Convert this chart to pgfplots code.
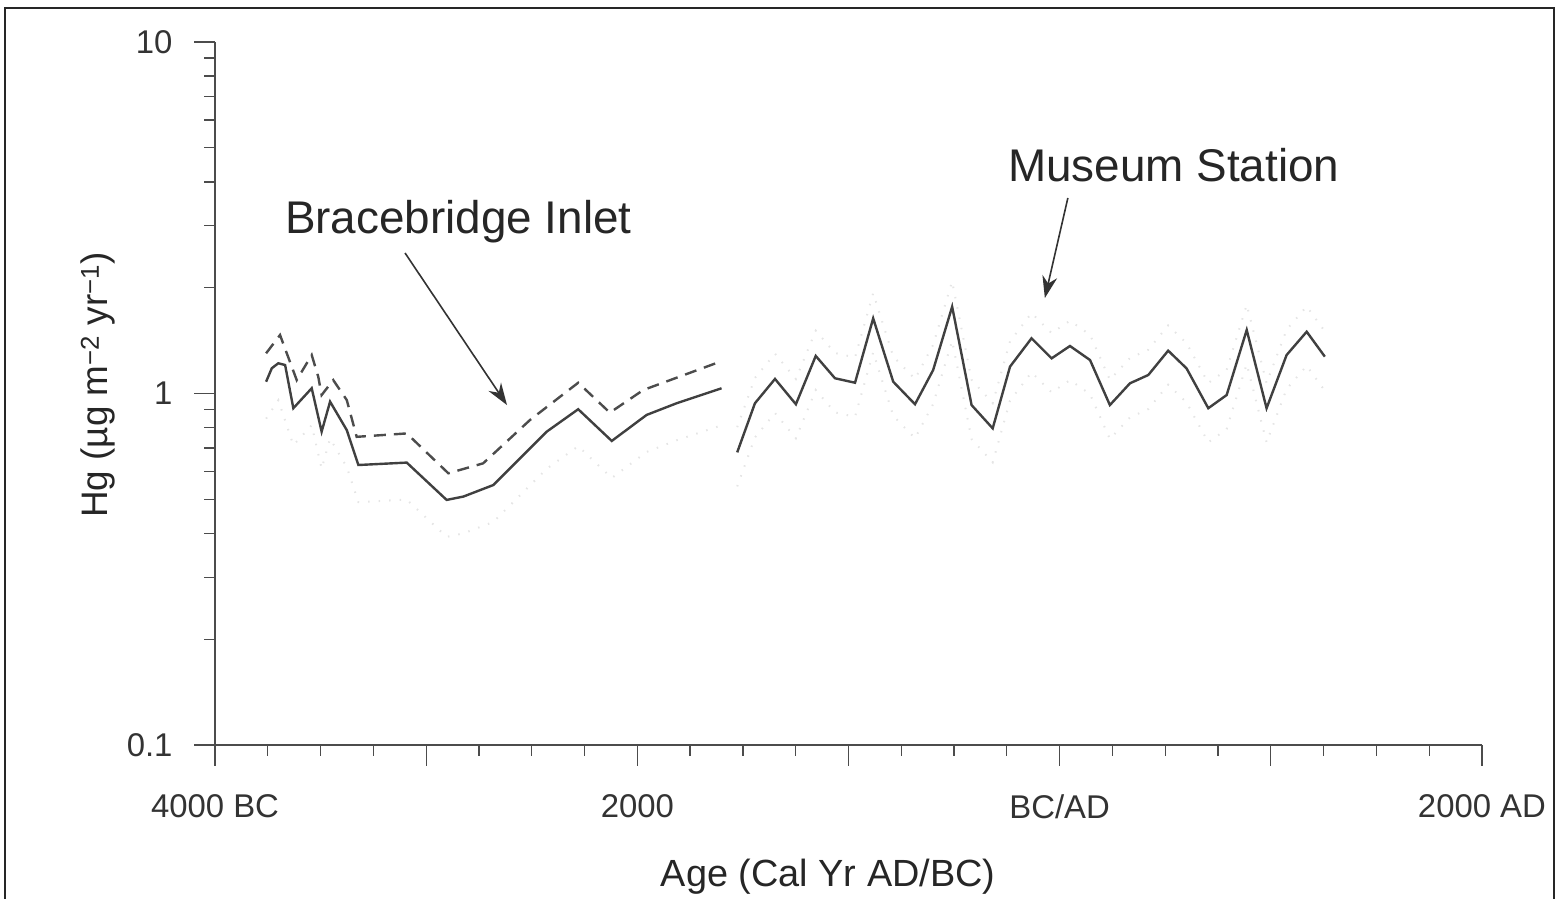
\documentclass[border=0pt]{standalone}
\usepackage{fontspec}
\setmainfont{Liberation Sans}
\usepackage{pgfplots}
\pgfplotsset{compat=1.18}
\usetikzlibrary{arrows.meta}
\begin{document}
\begin{tikzpicture}[x=1bp,y=1bp]
\useasboundingbox (0,0) rectangle (1562,898);
\draw[line width=2bp, black!85] (5,-10) -- (5,890) -- (1554,890) -- (1554,-10);
\begin{axis}[
  at={(215bp,153bp)}, anchor=south west,
  scale only axis, width=1267bp, height=703bp,
  xmin=-4000, xmax=2000,
  ymode=log, ymin=0.1, ymax=10,
  axis lines*=left,
  clip=false,
  xtick={-4000,-3000,...,2000},
  xticklabels={4000 BC,,2000,,BC/AD,,2000 AD},
  minor x tick num=3,
  ytick={0.1,1,10},
  yticklabels={0.1,1,10},
  minor ytick={0.2,0.3,0.4,0.5,0.6,0.7,0.8,0.9,2,3,4,5,6,7,8,9},
  tick align=outside,
  major tick length=21bp, minor tick length=11bp,
  every tick/.style={black!70, line width=1.3bp},
  axis line style={black!70, line width=2.2bp},
  /pgf/number format/assume math mode=true,
  xticklabel style={font=\fontsize{33}{36}\selectfont, text=black!80, yshift=-25bp},
  yticklabel style={font=\fontsize{33}{36}\selectfont, text=black!80, xshift=-18bp},
  xlabel={Age (Cal Yr AD/BC)},
  xlabel style={at={(axis description cs:0.484,0)}, anchor=center, yshift=-132bp, font=\fontsize{38}{40}\selectfont, text=black!85},
  ylabel={Hg (µg m\textsuperscript{−2} yr\textsuperscript{−1})},
  ylabel style={at={(axis description cs:-0.0923,0.512)}, anchor=center, font=\fontsize{37}{40}\selectfont, text=black!85},
]
% faint confidence bands
\addplot[gray!20, line width=2bp, dash pattern=on 1.5bp off 9bp] coordinates {
(-3758,0.848) (-3700,0.957) (-3629,0.713) (-3542,0.812) (-3495,0.611) (-3455,0.744)
(-3376,0.618) (-3321,0.491) (-3092,0.499) (-2903,0.391) (-2824,0.400) (-2682,0.431)
(-2429,0.611) (-2280,0.708) (-2121,0.575) (-1956,0.682) (-1814,0.736) (-1601,0.812)};
\addplot[gray!20, line width=2bp, dash pattern=on 1.5bp off 9bp] coordinates {
(-1527,0.802) (-1443,1.107) (-1348,1.298) (-1249,1.100) (-1155,1.509) (-1064,1.304)
(-969,1.266) (-883,1.930) (-788,1.274) (-685,1.100) (-599,1.376) (-509,2.084)
(-417,1.094) (-317,0.939) (-235,1.407) (-133,1.694) (-38,1.486) (49,1.611)
(144,1.469) (238,1.094) (333,1.261) (420,1.332) (514,1.562) (601,1.391)
(704,1.071) (791,1.168) (886,1.789) (980,1.071) (1075,1.519) (1170,1.769) (1256,1.502)};
\addplot[gray!20, line width=2bp, dash pattern=on 1.5bp off 9bp] coordinates {
(-1527,0.544) (-1443,0.750) (-1348,0.880) (-1249,0.746) (-1155,1.023) (-1064,0.884)
(-969,0.858) (-883,1.309) (-788,0.864) (-685,0.746) (-599,0.933) (-509,1.413)
(-417,0.742) (-317,0.637) (-235,0.954) (-133,1.149) (-38,1.007) (49,1.092)
(144,0.996) (238,0.742) (333,0.855) (420,0.903) (514,1.059) (601,0.943)
(704,0.726) (791,0.792) (886,1.213) (980,0.726) (1075,1.030) (1170,1.199) (1256,1.018)};
% Bracebridge Inlet, dashed
\addplot[black!70, line width=2.4bp, dash pattern=on 12bp off 8bp] coordinates {
(-3758,1.301) (-3692,1.467) (-3660,1.301) (-3613,1.092) (-3542,1.287) (-3511,1.116)
(-3495,0.990) (-3440,1.092) (-3376,0.958) (-3329,0.753) (-3092,0.770) (-2895,0.593)
(-2730,0.633) (-2508,0.841) (-2280,1.073) (-2130,0.882) (-1972,1.023) (-1609,1.231)};
% Bracebridge Inlet, solid
\addplot[black!75, line width=2.4bp] coordinates {
(-3758,1.080) (-3731,1.180) (-3700,1.219) (-3668,1.205) (-3629,0.908) (-3542,1.035)
(-3495,0.779) (-3455,0.948) (-3376,0.787) (-3321,0.626) (-3092,0.636) (-2903,0.498)
(-2824,0.509) (-2682,0.549) (-2429,0.779) (-2280,0.902) (-2121,0.733) (-1956,0.869)
(-1814,0.938) (-1601,1.035)};
% Museum Station
\addplot[black!75, line width=2.4bp] coordinates {
(-1527,0.680) (-1443,0.938) (-1348,1.100) (-1249,0.932) (-1155,1.279) (-1064,1.105)
(-969,1.073) (-883,1.636) (-788,1.080) (-685,0.932) (-599,1.166) (-509,1.766)
(-417,0.927) (-317,0.796) (-235,1.192) (-133,1.436) (-38,1.259) (49,1.365)
(144,1.245) (238,0.927) (333,1.069) (420,1.129) (514,1.324) (601,1.179)
(704,0.908) (791,0.990) (886,1.516) (980,0.908) (1075,1.287) (1170,1.499) (1256,1.273)};
% annotations
\node[anchor=west, inner sep=0, font=\fontsize{46}{48}\selectfont, text=black!85] at (axis cs:-3669,3.075) {Bracebridge Inlet};
\node[anchor=west, inner sep=0, font=\fontsize{46}{48}\selectfont, text=black!85] at (axis cs:-245,4.467) {Museum Station};
\draw[-{Stealth[length=22bp,width=15bp]}, line width=1.6bp, black!80] (axis cs:-3100,2.51) -- (axis cs:-2617,0.927);
\draw[-{Stealth[length=22bp,width=15bp]}, line width=1.6bp, black!80] (axis cs:39,3.60) -- (axis cs:-70,1.869);
\end{axis}
\end{tikzpicture}
\end{document}
